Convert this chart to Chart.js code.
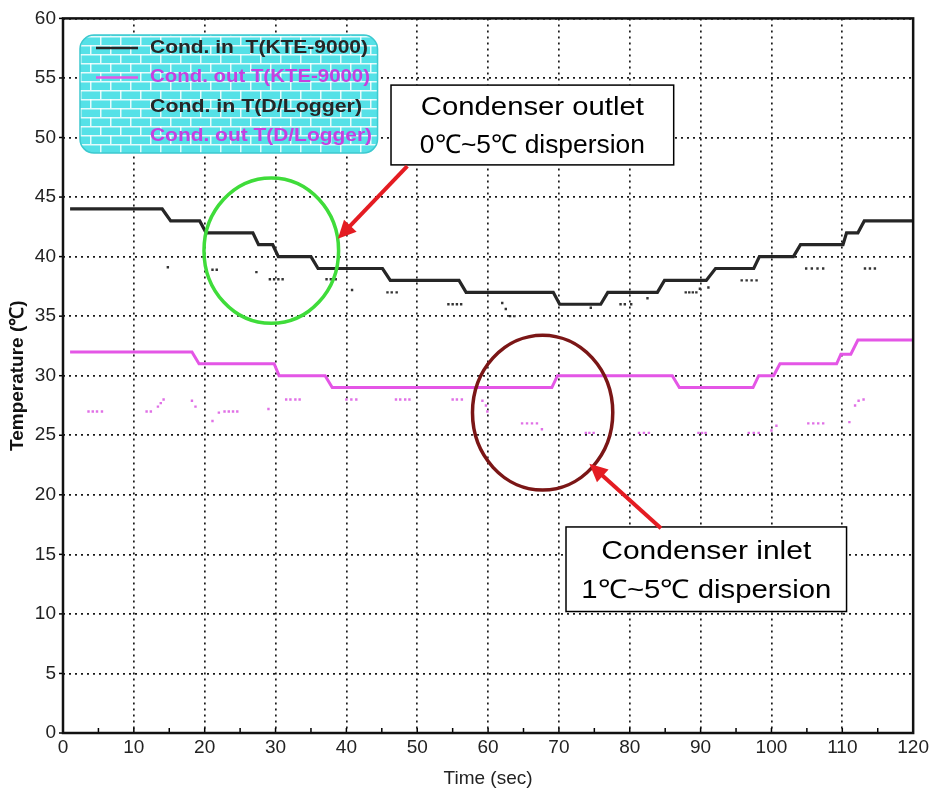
<!DOCTYPE html>
<html>
<head>
<meta charset="utf-8">
<script src="https://cdn.jsdelivr.net/npm/chart.js@4.4.1/dist/chart.umd.min.js"></script>
<style>
  html, body { margin: 0; padding: 0; background: #fff; }
  canvas { display: block; }
</style>
</head>
<body>
<canvas id="myChart" width="932" height="797"></canvas>
<script>
// series names
const seriesNames = ['Cond. in  T(KTE-9000)', 'Cond. out T(KTE-9000)', 'Cond. in T(D/Logger)', 'Cond. out T(D/Logger)'];

// KTE-9000 condenser inlet (step line corners)
const inTime = [1, 14, 15.2, 19.3, 20.2, 26.8, 27.6, 29.6, 30.4, 35, 36, 45.1, 46.2, 55.9, 56.9, 69.2, 70.1, 75.9, 76.9, 83.9, 84.9, 90.8, 92.1, 97.5, 98.3, 103.1, 104.1, 110.1, 110.6, 112.2, 113.1, 120];
const inTemp = [44, 44, 43, 43, 42, 42, 41, 41, 40, 40, 39, 39, 38, 38, 37, 37, 36, 36, 37, 37, 38, 38, 39, 39, 40, 40, 41, 41, 42, 42, 43, 43];

// KTE-9000 condenser outlet
const outTime = [1, 18.2, 19.2, 29.8, 30.5, 37, 38, 69, 69.8, 86, 87, 97.4, 98.2, 100.3, 101.2, 109.2, 109.8, 111.2, 112.2, 120];
const outTemp = [32, 32, 31, 31, 30, 30, 29, 29, 30, 30, 29, 29, 30, 30, 31, 31, 31.8, 31.8, 33, 33];

// data logger samples, inlet
const logInTime = [14.8, 21.1, 21.7, 27.3, 29.2, 29.8, 30.4, 31, 37.2, 37.8, 38.5, 40.8, 45.8, 46.4, 47.1, 54.4, 55, 55.6, 56.2, 62, 62.5, 63.1, 63.7, 74.5, 78.7, 79.3, 80.2, 82.5, 87.9, 88.4, 88.9, 89.4, 89.9, 91.1, 95.8, 96.5, 97.2, 97.9, 104.9, 105.7, 106.5, 107.3, 113.2, 113.9, 114.6];
const logInTemp = [39.1, 38.9, 38.9, 38.7, 38.1, 38.1, 38.1, 38.1, 38.1, 38.1, 38.1, 37.2, 37, 37, 37, 36, 36, 36, 36, 36.1, 35.6, 35, 35, 35.7, 36, 36, 36, 36.5, 37, 37, 37, 37, 37.3, 37.4, 38, 38, 38, 38, 39, 39, 39, 39, 39, 39, 39];

// data logger samples, outlet
const logOutTime = [3.6, 4.2, 4.8, 5.5, 11.8, 12.4, 13.4, 13.8, 14.2, 18.2, 18.7, 21.1, 22, 22.8, 23.4, 24, 24.6, 29, 31.5, 32.1, 32.8, 33.4, 40, 40.7, 41.4, 47, 47.6, 48.3, 48.9, 55, 55.6, 56.3, 59.2, 59.7, 59.9, 64.8, 65.5, 66.2, 66.9, 67.6, 73.8, 74.3, 74.9, 81.3, 82, 82.7, 89.7, 90.2, 90.7, 96.8, 97.5, 98.2, 100, 100.7, 105.2, 105.9, 106.6, 107.3, 111, 111.8, 112.3, 113];
const logOutTemp = [27, 27, 27, 27, 27, 27, 27.4, 27.7, 28, 27.9, 27.4, 26.2, 26.9, 27, 27, 27, 27, 27.2, 28, 28, 28, 28, 28, 28, 28, 28, 28, 28, 28, 28, 28, 28, 27.9, 27.5, 27, 26, 26, 26, 26, 25.5, 25.2, 25.2, 25.2, 25.2, 25.2, 25.2, 25.2, 25.2, 25.2, 25.2, 25.2, 25.2, 25.4, 25.8, 26, 26, 26, 26, 26.1, 27.5, 27.9, 28];

const xTicks = [0, 10, 20, 30, 40, 50, 60, 70, 80, 90, 100, 110, 120];
const yTicks = [0, 5, 10, 15, 20, 25, 30, 35, 40, 45, 50, 55, 60];

const toPoints = (xs, ys) => xs.map((x, i) => ({ x: x, y: ys[i] }));

const BLACK = '#262626';
const MAGENTA = '#e456e6';
const NARROW = "'Liberation Sans Narrow', 'Liberation Sans', Arial, sans-serif";
const SANS = "'Liberation Sans', Arial, sans-serif";

// callouts, in data units
const ellipses = [
    { cx: 29.4, cy: 40.5, rx: 9.5, ry: 6.1, color: '#3fdc3a' },
    { cx: 67.7, cy: 26.9, rx: 9.9, ry: 6.5, color: '#7b1616' }
];
const arrows = [
    { x1: 48.6, y1: 47.6, x2: 38.8, y2: 41.5 },
    { x1: 84.4, y1: 17.2, x2: 74.3, y2: 22.6 }
];
const notes = [
    { x1: 46.3, x2: 86.2, y1: 54.4, y2: 47.7, lines: ['Condenser outlet', '0\u2103~5\u2103 dispersion'], widths: [223, 225] },
    { x1: 71, x2: 110.6, y1: 17.3, y2: 10.2, lines: ['Condenser inlet', '1\u2103~5\u2103 dispersion'], widths: [210, 250] }
];
const legendBox = { x1: 2.4, x2: 44.4, y1: 58.6, y2: 48.7 };

function brickPattern(ctx) {
    const c = document.createElement('canvas');
    c.width = 20; c.height = 18;
    const g = c.getContext('2d');
    g.fillStyle = '#55e1e7';
    g.fillRect(0, 0, 20, 18);
    g.fillStyle = 'rgba(255,255,255,0.85)';
    g.fillRect(0, 0, 20, 1.5);
    g.fillRect(0, 9, 20, 1.5);
    g.fillRect(0, 0, 1.5, 9);
    g.fillRect(10, 9, 1.5, 9);
    return ctx.createPattern(c, 'repeat');
}

function fitText(ctx, text, x, y, w) {
    const m = ctx.measureText(text).width;
    ctx.save();
    ctx.translate(x, y);
    ctx.scale(w / m, 1);
    ctx.fillText(text, 0, 0);
    ctx.restore();
}

function drawArrow(ctx, x1, y1, x2, y2) {
    const ang = Math.atan2(y2 - y1, x2 - x1);
    const head = 20;
    ctx.save();
    ctx.strokeStyle = '#e41c22';
    ctx.fillStyle = '#e41c22';
    ctx.lineWidth = 4;
    ctx.beginPath();
    ctx.moveTo(x1, y1);
    ctx.lineTo(x2 - Math.cos(ang) * head * 0.8, y2 - Math.sin(ang) * head * 0.8);
    ctx.stroke();
    ctx.beginPath();
    ctx.moveTo(x2, y2);
    ctx.lineTo(x2 - head * Math.cos(ang - 0.45), y2 - head * Math.sin(ang - 0.45));
    ctx.lineTo(x2 - head * Math.cos(ang + 0.45), y2 - head * Math.sin(ang + 0.45));
    ctx.closePath();
    ctx.fill();
    ctx.restore();
}

const overlay = {
    id: 'overlay',
    afterDatasetsDraw(chart) {
        const ctx = chart.ctx;
        const xs = chart.scales.x, ys = chart.scales.y;
        const area = chart.chartArea;

        // small tick marks
        ctx.save();
        ctx.strokeStyle = '#000';
        ctx.lineWidth = 1.5;
        for (let v = 5; v < 120; v += 5) {
            const px = xs.getPixelForValue(v);
            ctx.beginPath();
            ctx.moveTo(px, area.bottom);
            ctx.lineTo(px, area.bottom - 5);
            ctx.stroke();
        }
        for (let v = 0; v <= 60; v += 5) {
            const py = ys.getPixelForValue(v);
            ctx.beginPath();
            ctx.moveTo(area.left, py);
            ctx.lineTo(area.left - 4, py);
            ctx.stroke();
        }
        ctx.restore();

        // frame
        ctx.save();
        ctx.strokeStyle = '#111';
        ctx.lineWidth = 2.5;
        ctx.strokeRect(area.left, area.top, area.right - area.left, area.bottom - area.top);
        ctx.restore();

        // legend
        const lx = xs.getPixelForValue(legendBox.x1), rx = xs.getPixelForValue(legendBox.x2);
        const ty = ys.getPixelForValue(legendBox.y1), by = ys.getPixelForValue(legendBox.y2);
        ctx.save();
        ctx.beginPath();
        ctx.roundRect(lx, ty, rx - lx, by - ty, 14);
        ctx.fillStyle = brickPattern(ctx);
        ctx.fill();
        ctx.strokeStyle = '#3cc9cf';
        ctx.lineWidth = 1.5;
        ctx.stroke();
        ctx.font = 'bold 18px ' + SANS;
        ctx.textBaseline = 'middle';
        const colors = [BLACK, '#c63fe0', BLACK, '#c63fe0'];
        const widths = [218, 220, 212, 222];
        chart.data.datasets.forEach((ds, i) => {
            const yy = ty + 13 + i * 29.4;
            if (i < 2) {
                ctx.strokeStyle = ds.borderColor;
                ctx.lineWidth = 2.5;
                ctx.beginPath();
                ctx.moveTo(lx + 16, yy);
                ctx.lineTo(lx + 58, yy);
                ctx.stroke();
            }
            ctx.fillStyle = colors[i];
            fitText(ctx, ds.label, lx + 70, yy, widths[i]);
        });
        ctx.restore();

        // ellipses
        ellipses.forEach(e => {
            const cx = xs.getPixelForValue(e.cx), cy = ys.getPixelForValue(e.cy);
            const rxp = xs.getPixelForValue(e.cx + e.rx) - cx;
            const ryp = cy - ys.getPixelForValue(e.cy + e.ry);
            ctx.save();
            ctx.strokeStyle = e.color;
            ctx.lineWidth = 3.5;
            ctx.beginPath();
            ctx.ellipse(cx, cy, rxp, ryp, 0, 0, Math.PI * 2);
            ctx.stroke();
            ctx.restore();
        });

        // note boxes
        notes.forEach(n => {
            const x1 = xs.getPixelForValue(n.x1), x2 = xs.getPixelForValue(n.x2);
            const y1 = ys.getPixelForValue(n.y1), y2 = ys.getPixelForValue(n.y2);
            ctx.save();
            ctx.fillStyle = '#fff';
            ctx.fillRect(x1, y1, x2 - x1, y2 - y1);
            ctx.strokeStyle = '#000';
            ctx.lineWidth = 1.5;
            ctx.strokeRect(x1, y1, x2 - x1, y2 - y1);
            ctx.fillStyle = '#000';
            ctx.font = '26px ' + SANS;
            ctx.textBaseline = 'middle';
            const h = y2 - y1, mid = (x1 + x2) / 2;
            fitText(ctx, n.lines[0], mid - n.widths[0] / 2, y1 + h * 0.29, n.widths[0]);
            fitText(ctx, n.lines[1], mid - n.widths[1] / 2, y1 + h * 0.76, n.widths[1]);
            ctx.restore();
        });

        // arrows
        arrows.forEach(a => {
            drawArrow(ctx, xs.getPixelForValue(a.x1), ys.getPixelForValue(a.y1),
                xs.getPixelForValue(a.x2), ys.getPixelForValue(a.y2));
        });
    }
};

const ctx = document.getElementById('myChart');

new Chart(ctx, {
    type: 'line',
    data: {
        datasets: [{
            label: seriesNames[0],
            data: toPoints(inTime, inTemp),
            borderColor: BLACK,
            borderWidth: 3.2,
            pointRadius: 0,
            tension: 0
        }, {
            label: seriesNames[1],
            data: toPoints(outTime, outTemp),
            borderColor: MAGENTA,
            borderWidth: 3,
            pointRadius: 0,
            tension: 0
        }, {
            label: seriesNames[2],
            data: toPoints(logInTime, logInTemp),
            showLine: false,
            borderColor: '#333',
            backgroundColor: '#333',
            pointStyle: 'rect',
            pointRadius: 1.7,
            borderWidth: 0
        }, {
            label: seriesNames[3],
            data: toPoints(logOutTime, logOutTemp),
            showLine: false,
            borderColor: '#e070e6',
            backgroundColor: '#e070e6',
            pointStyle: 'rect',
            pointRadius: 1.7,
            borderWidth: 0
        }]
    },
    options: {
        responsive: false,
        animation: false,
        devicePixelRatio: 1,
        layout: { padding: { left: 0, right: 17, top: 18, bottom: 0 } },
        plugins: {
            legend: { display: false },
            tooltip: { enabled: false }
        },
        scales: {
            x: {
                type: 'linear',
                min: 0,
                max: 120,
                afterFit: s => { s.height = 64; },
                afterBuildTicks: s => { s.ticks = xTicks.map(v => ({ value: v })); },
                grid: {
                    color: '#1a1a1a',
                    lineWidth: 1.7,
                    drawTicks: false
                },
                border: { display: false, dash: [2, 4] },
                ticks: {
                    padding: 3,
                    color: '#222',
                    font: { family: NARROW, size: 19 }
                },
                title: {
                    display: true,
                    text: 'Time (sec)',
                    color: '#222',
                    padding: { top: 0, bottom: 7 },
                    font: { family: NARROW, size: 19 }
                }
            },
            y: {
                min: 0,
                max: 60,
                afterFit: s => { s.width = 63; },
                afterBuildTicks: s => { s.ticks = yTicks.map(v => ({ value: v })); },
                grid: {
                    color: '#1a1a1a',
                    lineWidth: 1.7,
                    drawTicks: false
                },
                border: { display: false, dash: [2, 4] },
                ticks: {
                    padding: 7,
                    color: '#222',
                    font: { family: NARROW, size: 19 }
                },
                title: {
                    display: true,
                    text: 'Temperature (\u2103)',
                    color: '#111',
                    padding: { top: 6, bottom: 6 },
                    font: { family: SANS, size: 19, weight: 'bold' }
                }
            }
        }
    },
    plugins: [overlay]
});
</script>
</body>
</html>
